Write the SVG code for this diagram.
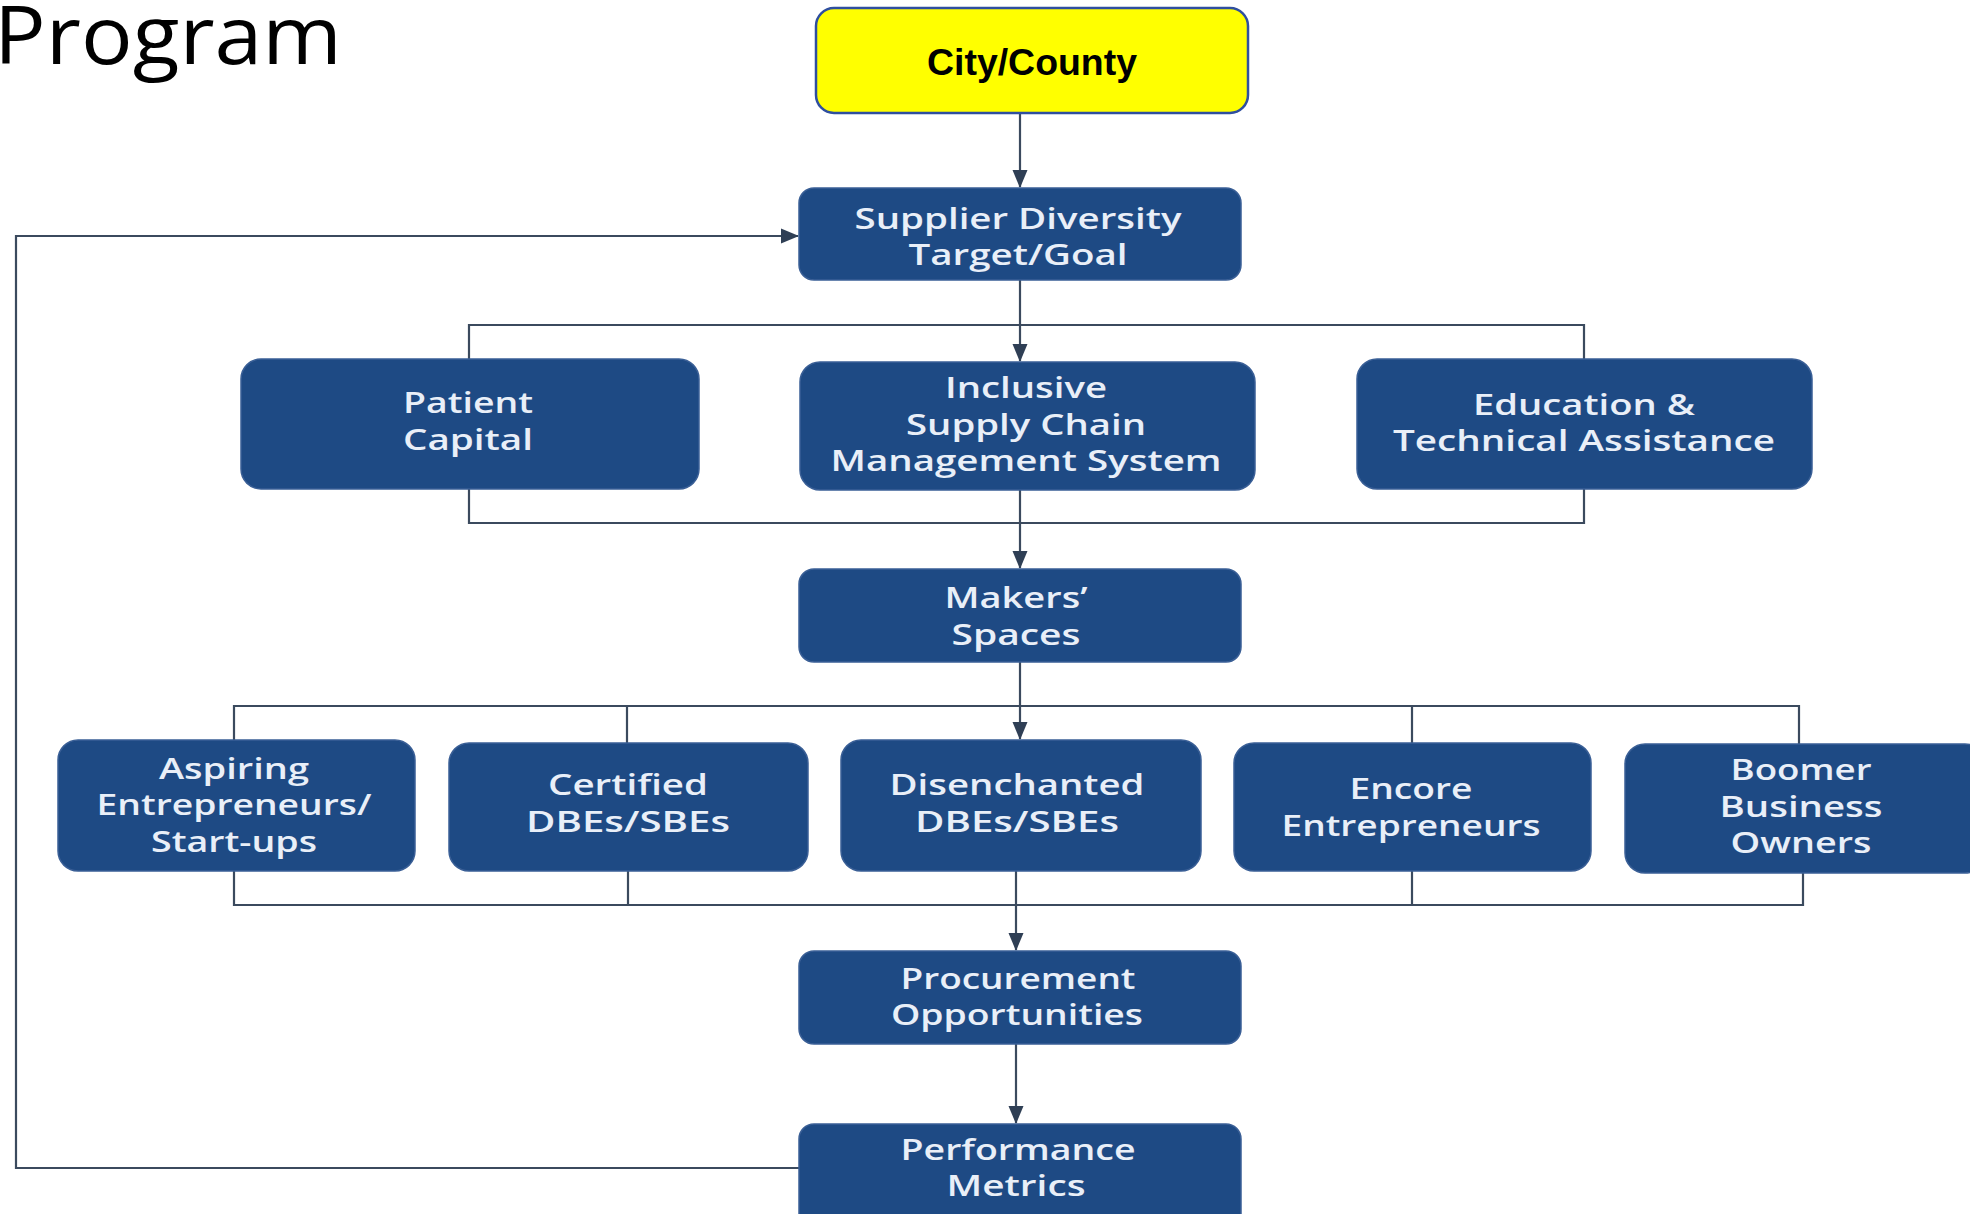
<svg xmlns="http://www.w3.org/2000/svg" width="1970" height="1214" viewBox="0 0 1970 1214">
<defs>
<style>
.box{fill:#1e4a84;stroke:#3a5f96;stroke-width:1.5}
.lbl{font-family:"Open Sans","Liberation Sans",sans-serif;font-size:28px;font-weight:600;fill:#e9eff8;text-anchor:middle}
.ln{fill:none;stroke:#3b4a5e;stroke-width:2.2}
.arr{fill:none;stroke:#3b4a5e;stroke-width:2.2;marker-end:url(#ah)}
</style>
<marker id="ah" markerUnits="userSpaceOnUse" markerWidth="18" markerHeight="18" viewBox="0 0 18 18" refX="17" refY="9" orient="auto">
<path d="M0,1.5 L18,9 L0,16.5 Z" fill="#2f3f55"/>
</marker>
</defs>
<rect width="1970" height="1214" fill="#ffffff"/>
<text x="-6" y="64" font-family="Open Sans, Liberation Sans, sans-serif" font-size="80" fill="#000" textLength="348" lengthAdjust="spacingAndGlyphs">Program</text>

<g id="connectors">
<line class="arr" x1="1020" y1="113" x2="1020" y2="187"/>
<line class="arr" x1="1020" y1="280" x2="1020" y2="361"/>
<polyline class="ln" points="469,359 469,325 1584,325 1584,359"/>
<polyline class="ln" points="469,489 469,523 1584,523 1584,489"/>
<line class="arr" x1="1020" y1="490" x2="1020" y2="568"/>
<line class="arr" x1="1020" y1="662" x2="1020" y2="739"/>
<polyline class="ln" points="234,740 234,706 1799,706 1799,744"/>
<line class="ln" x1="627" y1="706" x2="627" y2="743"/>
<line class="ln" x1="1412" y1="706" x2="1412" y2="743"/>
<polyline class="ln" points="234,871 234,905 1803,905 1803,873"/>
<line class="ln" x1="628" y1="871" x2="628" y2="905"/>
<line class="ln" x1="1412" y1="871" x2="1412" y2="905"/>
<line class="arr" x1="1016" y1="871" x2="1016" y2="950"/>
<line class="arr" x1="1016" y1="1044" x2="1016" y2="1123"/>
<polyline class="arr" points="799,1168 16,1168 16,236 798,236"/>
</g>

<g id="city-county">
<rect x="816" y="8" width="432" height="105" rx="18" fill="#ffff00" stroke="#2f4f9f" stroke-width="2.5"/>
<text x="1032" y="75" font-family="Liberation Sans, Arial, sans-serif" font-weight="bold" font-size="37" fill="#000" text-anchor="middle" textLength="210" lengthAdjust="spacingAndGlyphs">City/County</text>
</g>

<g id="supplier-diversity">
<rect class="box" x="799" y="188" width="442" height="92" rx="15"/>
<text class="lbl" x="1018" y="229" textLength="327" lengthAdjust="spacingAndGlyphs">Supplier Diversity</text>
<text class="lbl" x="1018" y="265" textLength="219" lengthAdjust="spacingAndGlyphs">Target/Goal</text>
</g>

<g id="patient-capital">
<rect class="box" x="241" y="359" width="458" height="130" rx="20"/>
<text class="lbl" x="468" y="413" textLength="130" lengthAdjust="spacingAndGlyphs">Patient</text>
<text class="lbl" x="468" y="450" textLength="130" lengthAdjust="spacingAndGlyphs">Capital</text>
</g>

<g id="inclusive-supply-chain">
<rect class="box" x="800" y="362" width="455" height="128" rx="20"/>
<text class="lbl" x="1026" y="398" textLength="162" lengthAdjust="spacingAndGlyphs">Inclusive</text>
<text class="lbl" x="1026" y="435" textLength="240" lengthAdjust="spacingAndGlyphs">Supply Chain</text>
<text class="lbl" x="1026" y="471" textLength="391" lengthAdjust="spacingAndGlyphs">Management System</text>
</g>

<g id="education">
<rect class="box" x="1357" y="359" width="455" height="130" rx="20"/>
<text class="lbl" x="1584" y="415" textLength="222" lengthAdjust="spacingAndGlyphs">Education &amp;</text>
<text class="lbl" x="1584" y="451" textLength="382" lengthAdjust="spacingAndGlyphs">Technical Assistance</text>
</g>

<g id="makers-spaces">
<rect class="box" x="799" y="569" width="442" height="93" rx="15"/>
<text class="lbl" x="1016" y="608" textLength="143" lengthAdjust="spacingAndGlyphs">Makers’</text>
<text class="lbl" x="1016" y="645" textLength="129" lengthAdjust="spacingAndGlyphs">Spaces</text>
</g>

<g id="aspiring">
<rect class="box" x="58" y="740" width="357" height="131" rx="20"/>
<text class="lbl" x="234" y="779" textLength="150" lengthAdjust="spacingAndGlyphs">Aspiring</text>
<text class="lbl" x="234" y="815" textLength="275" lengthAdjust="spacingAndGlyphs">Entrepreneurs/</text>
<text class="lbl" x="234" y="852" textLength="166" lengthAdjust="spacingAndGlyphs">Start-ups</text>
</g>

<g id="certified">
<rect class="box" x="449" y="743" width="359" height="128" rx="20"/>
<text class="lbl" x="628" y="795" textLength="160" lengthAdjust="spacingAndGlyphs">Certified</text>
<text class="lbl" x="628" y="832" textLength="204" lengthAdjust="spacingAndGlyphs">DBEs/SBEs</text>
</g>

<g id="disenchanted">
<rect class="box" x="841" y="740" width="360" height="131" rx="20"/>
<text class="lbl" x="1017" y="795" textLength="255" lengthAdjust="spacingAndGlyphs">Disenchanted</text>
<text class="lbl" x="1017" y="832" textLength="204" lengthAdjust="spacingAndGlyphs">DBEs/SBEs</text>
</g>

<g id="encore">
<rect class="box" x="1234" y="743" width="357" height="128" rx="20"/>
<text class="lbl" x="1411" y="799" textLength="123" lengthAdjust="spacingAndGlyphs">Encore</text>
<text class="lbl" x="1411" y="836" textLength="259" lengthAdjust="spacingAndGlyphs">Entrepreneurs</text>
</g>

<g id="boomer">
<rect class="box" x="1625" y="744" width="360" height="129" rx="20"/>
<text class="lbl" x="1801" y="780" textLength="141" lengthAdjust="spacingAndGlyphs">Boomer</text>
<text class="lbl" x="1801" y="817" textLength="163" lengthAdjust="spacingAndGlyphs">Business</text>
<text class="lbl" x="1801" y="853" textLength="141" lengthAdjust="spacingAndGlyphs">Owners</text>
</g>

<g id="procurement">
<rect class="box" x="799" y="951" width="442" height="93" rx="15"/>
<text class="lbl" x="1018" y="989" textLength="235" lengthAdjust="spacingAndGlyphs">Procurement</text>
<text class="lbl" x="1017" y="1025" textLength="252" lengthAdjust="spacingAndGlyphs">Opportunities</text>
</g>

<g id="performance">
<rect class="box" x="799" y="1124" width="442" height="105" rx="15"/>
<text class="lbl" x="1018" y="1160" textLength="235" lengthAdjust="spacingAndGlyphs">Performance</text>
<text class="lbl" x="1016" y="1196" textLength="139" lengthAdjust="spacingAndGlyphs">Metrics</text>
</g>
</svg>
